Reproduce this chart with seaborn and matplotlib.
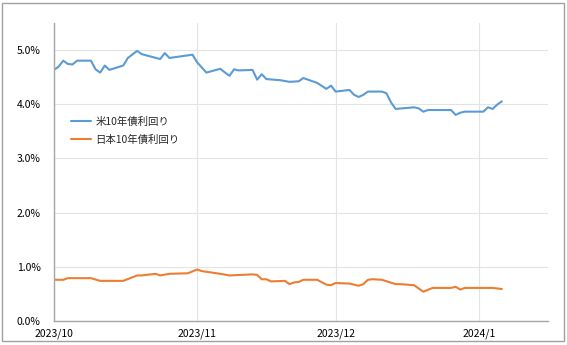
import matplotlib
matplotlib.use("Agg")
import matplotlib.pyplot as plt
import matplotlib.dates as mdates
from matplotlib.patches import Rectangle
import seaborn as sns
import pandas as pd

us_dates = ["2023-10-01", "2023-10-02", "2023-10-03", "2023-10-04", "2023-10-05", "2023-10-06",
            "2023-10-09", "2023-10-10", "2023-10-11", "2023-10-12", "2023-10-13", "2023-10-16",
            "2023-10-17", "2023-10-19", "2023-10-20", "2023-10-24", "2023-10-25", "2023-10-26",
            "2023-10-31", "2023-11-01", "2023-11-03", "2023-11-06", "2023-11-08", "2023-11-09",
            "2023-11-10", "2023-11-13", "2023-11-14", "2023-11-15", "2023-11-16", "2023-11-19",
            "2023-11-21", "2023-11-23", "2023-11-24", "2023-11-27", "2023-11-29", "2023-11-30",
            "2023-12-01", "2023-12-04", "2023-12-05", "2023-12-06", "2023-12-07", "2023-12-08",
            "2023-12-11", "2023-12-12", "2023-12-13", "2023-12-14", "2023-12-18", "2023-12-19",
            "2023-12-20", "2023-12-21", "2023-12-26", "2023-12-27", "2023-12-28", "2023-12-29",
            "2024-01-02", "2024-01-03", "2024-01-04", "2024-01-05", "2024-01-06"]
us_yield = [4.63, 4.69, 4.80, 4.74, 4.73, 4.80,
            4.80, 4.64, 4.58, 4.71, 4.63, 4.71,
            4.85, 4.98, 4.92, 4.83, 4.94, 4.85,
            4.91, 4.77, 4.58, 4.65, 4.52, 4.64,
            4.62, 4.63, 4.45, 4.55, 4.46, 4.44,
            4.41, 4.42, 4.48, 4.39, 4.28, 4.34,
            4.23, 4.26, 4.17, 4.13, 4.17, 4.23,
            4.23, 4.20, 4.03, 3.91, 3.94, 3.92,
            3.86, 3.89, 3.89, 3.80, 3.84, 3.86,
            3.86, 3.94, 3.91, 3.99, 4.05]

jp_dates = ["2023-10-01", "2023-10-03", "2023-10-04", "2023-10-09", "2023-10-11", "2023-10-16",
            "2023-10-19", "2023-10-20", "2023-10-23", "2023-10-24", "2023-10-26", "2023-10-30",
            "2023-11-01", "2023-11-02", "2023-11-06", "2023-11-08", "2023-11-13", "2023-11-14",
            "2023-11-15", "2023-11-16", "2023-11-17", "2023-11-20", "2023-11-21", "2023-11-22",
            "2023-11-23", "2023-11-24", "2023-11-27", "2023-11-29", "2023-11-30", "2023-12-01",
            "2023-12-04", "2023-12-06", "2023-12-07", "2023-12-08", "2023-12-09", "2023-12-11",
            "2023-12-14", "2023-12-15", "2023-12-18", "2023-12-20", "2023-12-22", "2023-12-26",
            "2023-12-27", "2023-12-28", "2023-12-29", "2024-01-04", "2024-01-06"]
jp_yield = [0.76, 0.76, 0.79, 0.79, 0.74, 0.74,
            0.84, 0.84, 0.87, 0.84, 0.87, 0.88,
            0.95, 0.92, 0.87, 0.84, 0.86, 0.85,
            0.77, 0.77, 0.73, 0.74, 0.68, 0.71,
            0.72, 0.76, 0.76, 0.67, 0.66, 0.70,
            0.69, 0.65, 0.68, 0.76, 0.77, 0.76,
            0.68, 0.68, 0.66, 0.54, 0.61, 0.61,
            0.63, 0.58, 0.61, 0.61, 0.59]

series_names = ["米10年債利回り", "日本10年債利回り"]
series_colors = ["#5b9bd5", "#ed7d31"]
month_ticks = ["2023-10-01", "2023-11-01", "2023-12-01", "2024-01-01"]
month_labels = ["2023/10", "2023/11", "2023/12", "2024/1"]
y_ticks = [0, 1, 2, 3, 4, 5]
y_labels = ["0.0%", "1.0%", "2.0%", "3.0%", "4.0%", "5.0%"]

df = pd.concat([
    pd.DataFrame({"date": pd.to_datetime(us_dates), "yield": us_yield, "series": series_names[0]}),
    pd.DataFrame({"date": pd.to_datetime(jp_dates), "yield": jp_yield, "series": series_names[1]}),
], ignore_index=True)

sns.set_style("white")
plt.rcParams["font.family"] = ["Noto Sans CJK JP", "DejaVu Sans"]

fig = plt.figure(figsize=(5.67, 3.45), dpi=100)
ax = fig.add_axes([54 / 567, 1 - 321 / 345, (548 - 54) / 567, (321 - 22.7) / 345])

sns.lineplot(data=df, x="date", y="yield", hue="series", hue_order=series_names,
             palette=series_colors, linewidth=1.5, ax=ax, legend=False)

ax.set_xlim(pd.Timestamp("2023-10-01"), pd.Timestamp("2024-01-16"))
ax.set_ylim(0, 5.5)
ax.set_xticks(pd.to_datetime(month_ticks))
ax.set_xticklabels(month_labels)
ax.set_yticks(y_ticks)
ax.set_yticklabels(y_labels)
ax.set_xlabel("")
ax.set_ylabel("")

ax.grid(True, color="#e3e3e3", linewidth=0.8)
ax.set_axisbelow(True)
for s in ["top", "right"]:
    ax.spines[s].set_visible(False)
for s in ["left", "bottom"]:
    ax.spines[s].set_color("#a6a6a6")
    ax.spines[s].set_linewidth(1.0)
ax.tick_params(axis="both", direction="inout", length=5, width=0.8, color="#a6a6a6",
               labelsize=7.5, labelcolor="#000000")
ax.tick_params(axis="y", pad=7)
ax.tick_params(axis="x", pad=3)

from matplotlib.lines import Line2D
handles = [Line2D([], [], color=c, linewidth=1.5) for c in series_colors]
ax.legend(handles, series_names, loc="upper left", bbox_to_anchor=(0.025, 0.70),
          frameon=False, fontsize=7.5, handlelength=2.0, handletextpad=0.4,
          labelspacing=0.75, borderaxespad=0)

fig.patches.append(Rectangle((1.5 / 567, 1 - 341 / 345), 562 / 567, 338 / 345,
                             transform=fig.transFigure, fill=False,
                             edgecolor="#a0a0a0", linewidth=1.0))

fig.savefig("out.png", dpi=100)
